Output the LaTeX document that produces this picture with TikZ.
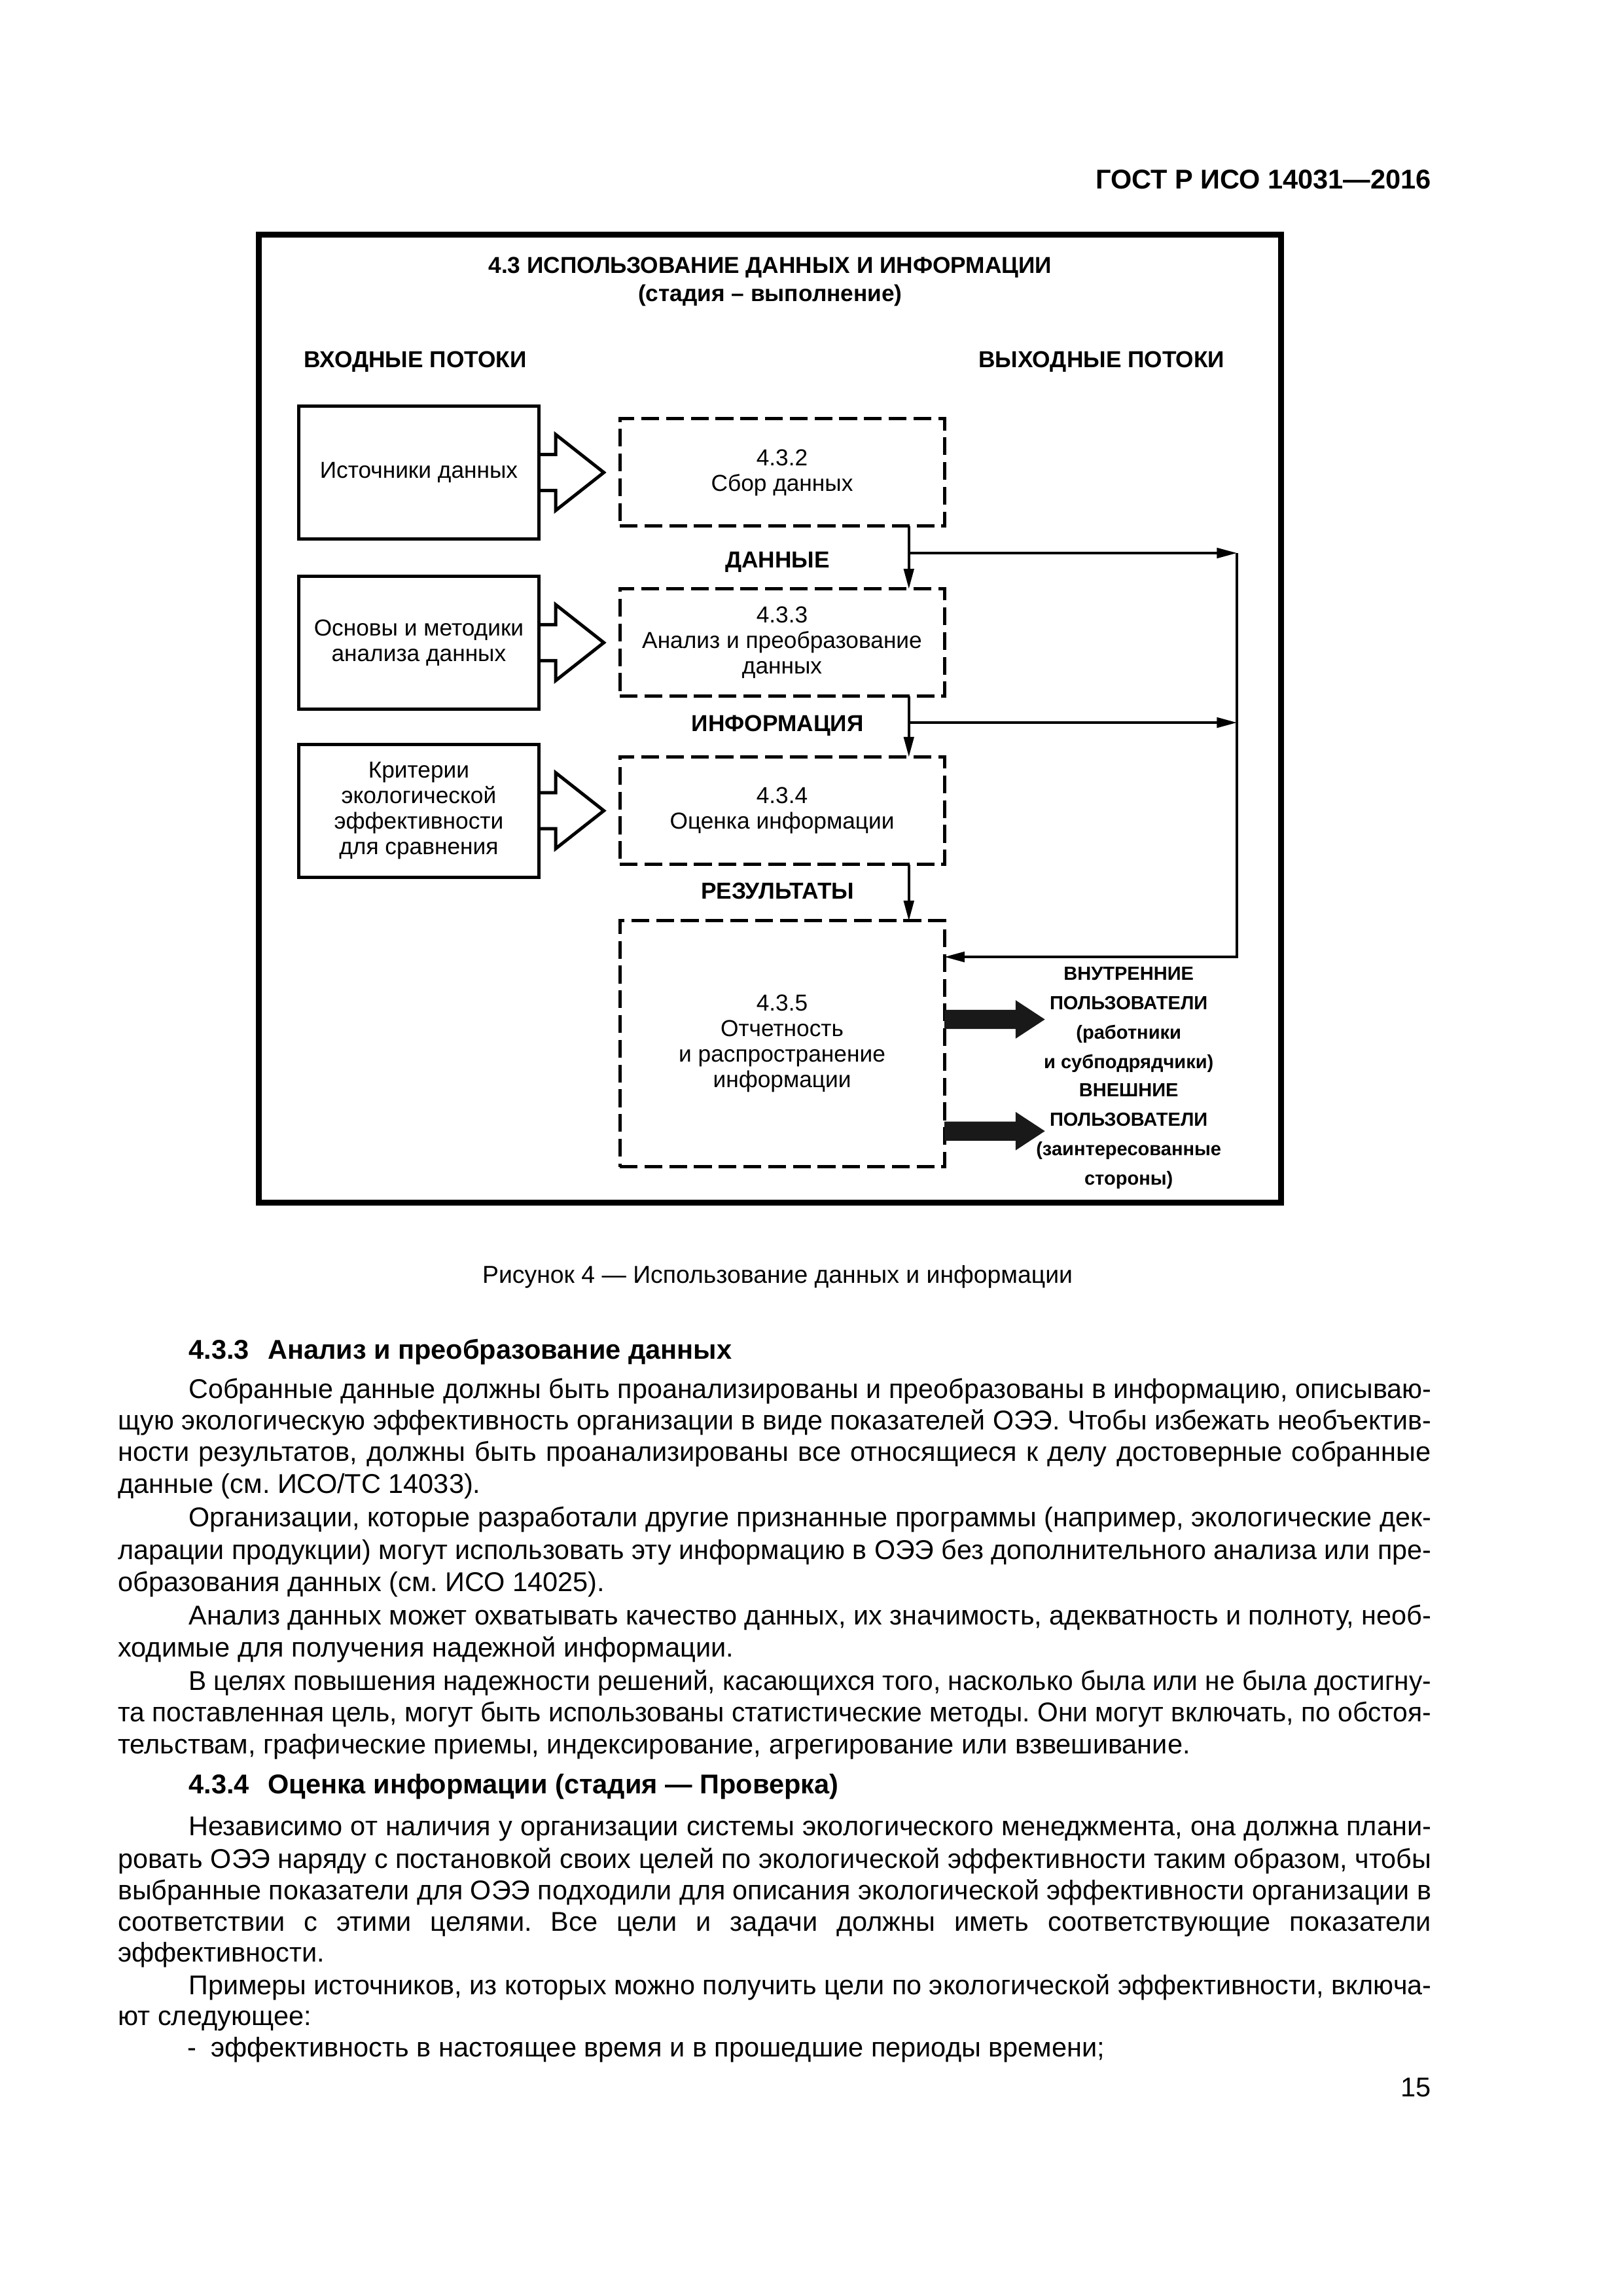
\documentclass[tikz,border=0pt]{standalone}
\usepackage{fontspec}
\setmainfont{Liberation Sans}
\usepackage{graphicx}
\usepackage{tikz}
\usetikzlibrary{positioning}
\usetikzlibrary{arrows.meta}

\newcommand\diagfont{\fontsize{8.5}{9.4}\selectfont}
\newcommand\diagbold{\fontsize{8.5}{10.4}\selectfont\bfseries}
\newcommand\userfont{\fontsize{7}{10.8}\selectfont\bfseries}
\newcommand\bodyfont{\fontsize{10}{12}\selectfont\frenchspacing}
\newcommand\headfont{\fontsize{10}{12}\selectfont\bfseries}
\newcommand\capfont{\fontsize{9}{11}\selectfont}

% one justified line of the page text
\newsavebox\jlinebox
\newlength\jlinew
\newcommand\jline[2]{%
  \setlength\jlinew{#1}%
  \sbox\jlinebox{#2}%
  \ifdim\wd\jlinebox>\jlinew
    \resizebox{\jlinew}{\height}{\usebox\jlinebox}%
  \else
    \makebox[\jlinew][s]{#2}%
  \fi}
\newcommand\firstline[1]{\jline{160.75mm}{#1}}
\newcommand\fullline[1]{\jline{169.9mm}{#1}}

\tikzset{
    every node/.style={inner sep=0pt, outer sep=0pt},
    frame/.style={draw, line width=2.2pt},
    srcbox/.style={ % input boxes on the left
        draw, line width=1.2pt,
        minimum width=31mm, minimum height=17.2mm,
        align=center, font=\diagfont
    },
    stagebox/.style={ % dashed stage boxes
        draw, line width=1.2pt, dash pattern=on 2.3mm off 0.9mm,
        minimum width=42mm, minimum height=13.9mm,
        align=center, font=\diagfont
    },
    hollow/.style={draw, line width=1.2pt, line join=miter},
    fat/.style={fill=black!90},
    flow/.style={
        draw, line width=0.9pt,
        -{Triangle[length=2.6mm,width=1.3mm]}
    },
    flowlabel/.style={anchor=base, font=\diagbold},
    users/.style={align=center, font=\userfont},
    body/.style={anchor=base west, font=\bodyfont},
    head/.style={anchor=base west, font=\headfont}
}

\begin{document}
\begin{tikzpicture}[x=0.0190909cm, y=-0.0190909cm]
    \fill[white] (0,0) rectangle (1100,1556);
    \useasboundingbox (0,0) rectangle (1100,1556);

    \node[anchor=base east, font=\headfont] (gost) at (970,128) {ГОСТ Р ИСО 14031—2016};

    % figure
    \draw[frame] (175.5,159) rectangle (868.3,815.2);
    \node[align=center, font=\diagbold] (title) at (522,191) 
        {4.3 ИСПОЛЬЗОВАНИЕ ДАННЫХ И ИНФОРМАЦИИ\\(стадия – выполнение)};
    \node[flowlabel] (inflows) at (281.5,249) {ВХОДНЫЕ ПОТОКИ};
    \node[flowlabel] (outflows) at (746.6,249) {ВЫХОДНЫЕ ПОТОКИ};

    \node[srcbox] (src1) at (283.85,320.2) {Источники данных};
    \node[srcbox] (src2) at (283.85,435.5) {Основы и методики\\анализа данных};
    \node[srcbox] (src3) at (283.85,549.4) {Критерии\\экологической\\эффективности\\для сравнения};

    \node[stagebox, right=10.5mm of src1] (collect) {4.3.2\\Сбор данных};
    \node[stagebox, right=10.5mm of src2] (analyse) {4.3.3\\Анализ и преобразование\\данных};
    \node[stagebox, right=10.5mm of src3] (assess) {4.3.4\\Оценка информации};
    \node[stagebox, minimum height=31.8mm, below=7.3mm of assess] (report)
        {4.3.5\\Отчетность\\и распространение\\информации};

    % hollow input arrows
    \foreach \s in {src1,src2,src3}
        \draw[hollow] (\s.east) ++(0,-12.2) -- ++(11.6,0) -- ++(0,-13.5) -- ++(32.6,25.7)
            -- ++(-32.6,25.7) -- ++(0,-13.5) -- ++(-11.6,0);

    \node[flowlabel] (data) at (527,385) {ДАННЫЕ};
    \node[flowlabel] (info) at (527,495.6) {ИНФОРМАЦИЯ};
    \node[flowlabel] (results) at (527,609.3) {РЕЗУЛЬТАТЫ};

    \draw[flow] ([xshift=-4.6mm]collect.south east) -- ([xshift=-4.6mm]analyse.north east);
    \draw[flow] ([xshift=-4.6mm]analyse.south east) -- ([xshift=-4.6mm]assess.north east);
    \draw[flow] ([xshift=-4.6mm]assess.south east) -- ([xshift=-4.6mm]report.north east);

    % feedback to reporting
    \coordinate (d1) at (616,374.8);
    \coordinate (d2) at (616,489.7);
    \coordinate (fb) at (838.4,648.5);
    \draw[flow] (d1) -- (d1 -| fb);
    \draw[flow] (d2) -- (d2 -| fb);
    \draw[flow] (d1 -| fb) -- (fb) -- (fb -| report.east);

    % outputs
    \node[users] (int) at (765,691.1) {ВНУТРЕННИЕ\\ПОЛЬЗОВАТЕЛИ\\(работники\\и субподрядчики)};
    \node[users] (ext) at (765,770) {ВНЕШНИЕ\\ПОЛЬЗОВАТЕЛИ\\(заинтересованные\\стороны)};
    \foreach \dy in {3.15mm,-11.3mm}
        \fill[fat] ([yshift=\dy]report.east) ++(0,-6.5) -- ++(48.3,0) -- ++(0,-6.5) -- ++(19.8,13)
            -- ++(-19.8,13) -- ++(0,-6.5) -- ++(-48.3,0) -- cycle;

    \node[anchor=base, font=\capfont] (caption) at (527,869.5)
        {Рисунок 4 — Использование данных и информации};

    % text of the page
    \node[head] (h1) at (128,921) {4.3.3\hspace{2.4mm}Анализ и преобразование данных};
    \node[body] (l1) at (128,947.6) {\firstline{Собранные данные должны быть проанализированы и преобразованы в информацию, описываю-}};
    \node[body] (l2) at (80,968.9) {\fullline{щую экологическую эффективность организации в виде показателей ОЭЭ. Чтобы избежать необъектив-}};
    \node[body] (l3) at (80,990.2) {\fullline{ности результатов, должны быть проанализированы все относящиеся к делу достоверные собранные}};
    \node[body] (l4) at (80,1011.8) {данные (см. ИСО/ТС 14033).};
    \node[body] (l5) at (128,1034.6) {\firstline{Организации, которые разработали другие признанные программы (например, экологические дек-}};
    \node[body] (l6) at (80,1056.8) {\fullline{ларации продукции) могут использовать эту информацию в ОЭЭ без дополнительного анализа или пре-}};
    \node[body] (l7) at (80,1078.7) {образования данных (см. ИСО 14025).};
    \node[body] (l8) at (128,1101.3) {\firstline{Анализ данных может охватывать качество данных, их значимость, адекватность и полноту, необ-}};
    \node[body] (l9) at (80,1122.7) {ходимые для получения надежной информации.};
    \node[body] (l10) at (128,1145.5) {\firstline{В целях повышения надежности решений, касающихся того, насколько была или не была достигну-}};
    \node[body] (l11) at (80,1166.8) {\fullline{та поставленная цель, могут быть использованы статистические методы. Они могут включать, по обстоя-}};
    \node[body] (l12) at (80,1188.3) {тельствам, графические приемы, индексирование, агрегирование или взвешивание.};

    \node[head] (h2) at (128,1215.4) {4.3.4\hspace{2.4mm}Оценка информации (стадия — Проверка)};
    \node[body] (m1) at (128,1244.1) {\firstline{Независимо от наличия у организации системы экологического менеджмента, она должна плани-}};
    \node[body] (m2) at (80,1266) {\fullline{ровать ОЭЭ наряду с постановкой своих целей по экологической эффективности таким образом, чтобы}};
    \node[body] (m3) at (80,1287.3) {\fullline{выбранные показатели для ОЭЭ подходили для описания экологической эффективности организации в}};
    \node[body] (m4) at (80,1308.6) {\fullline{соответствии с этими целями. Все цели и задачи должны иметь соответствующие показатели}};
    \node[body] (m5) at (80,1329.5) {эффективности.};
    \node[body] (m6) at (128,1351.6) {\firstline{Примеры источников, из которых можно получить цели по экологической эффективности, включа-}};
    \node[body] (m7) at (80,1372.5) {ют следующее:};
    \node[body] (m8) at (127,1394) {\makebox[3.05mm][l]{-}эффективность в настоящее время и в прошедшие периоды времени;};

    \node[anchor=base east, font=\bodyfont] (page) at (970,1421) {15};
\end{tikzpicture}
\end{document}
